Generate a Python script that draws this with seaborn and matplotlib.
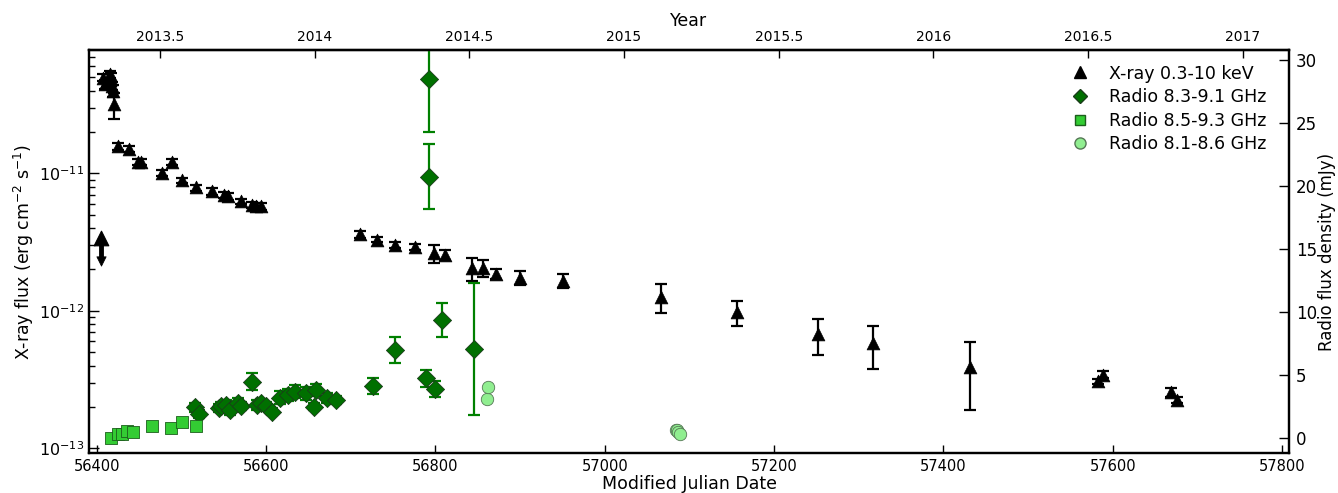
import numpy as np
import pandas as pd
import matplotlib
matplotlib.use("Agg")
import matplotlib.pyplot as plt
from matplotlib.ticker import MultipleLocator, FuncFormatter, LogLocator
from matplotlib.lines import Line2D
import seaborn as sns

# ---------------- data ----------------
xray_mjd = [56407.9, 56409.8, 56411.8, 56415.7, 56416.9, 56417.7, 56419.7, 56420.4,
            56425.6, 56438.5, 56449.0, 56453.0, 56476.7, 56489.6, 56501.4, 56517.0,
            56536.8, 56550.0, 56555.0, 56571.0, 56583.6, 56588.7, 56594.6,
            56710.5, 56731.4, 56751.8, 56776.2, 56798.2, 56811.9, 56843.4, 56856.0,
            56871.7, 56900.0, 56951.0, 57066.3, 57156.7, 57251.8, 57316.6, 57431.0,
            57582.0, 57588.0, 57669.0, 57675.6]
xray_flux = [4.96e-11, 4.44e-11, 4.56e-11, 5.25e-11, 4.83e-11, 4.31e-11, 3.97e-11, 3.17e-11,
             1.57e-11, 1.50e-11, 1.22e-11, 1.22e-11, 1.00e-11, 1.21e-11, 8.9e-12, 7.9e-12,
             7.4e-12, 7.0e-12, 6.8e-12, 6.25e-12, 5.9e-12, 5.75e-12, 5.75e-12,
             3.6e-12, 3.3e-12, 3.0e-12, 2.93e-12, 2.62e-12, 2.55e-12, 2.04e-12, 2.06e-12,
             1.85e-12, 1.74e-12, 1.66e-12, 1.26e-12, 9.8e-13, 6.8e-13, 5.8e-13, 3.9e-13,
             3.07e-13, 3.43e-13, 2.56e-13, 2.25e-13]
xray_err = [0.3e-11, 0.3e-11, 0.3e-11, 0.3e-11, 0.5e-11, 0.3e-11, 0.4e-11, 0.7e-11,
            0.08e-11, 0.07e-11, 0.06e-11, 0.06e-11, 0.05e-11, 0.06e-11, 0.4e-12, 0.4e-12,
            0.4e-12, 0.35e-12, 0.35e-12, 0.3e-12, 0.3e-12, 0.3e-12, 0.3e-12,
            0.2e-12, 0.15e-12, 0.15e-12, 0.15e-12, 0.4e-12, 0.2e-12, 0.4e-12, 0.3e-12,
            0.15e-12, 0.2e-12, 0.2e-12, 0.3e-12, 0.2e-12, 0.2e-12, 0.2e-12, 0.2e-12,
            0.15e-13, 0.2e-13, 0.2e-13, 0.1e-13]

xray_ul_mjd = [56404.7]
xray_ul_flux = [3.4e-12]
xray_ul_low = [2.3e-12]

radio1_mjd = [56516.0, 56521.0, 56544.7, 56547.4, 56553.3, 56557.2, 56567.0, 56570.0,
              56583.6, 56589.5, 56594.6, 56600.5, 56607.5, 56617.0, 56626.0, 56633.8,
              56647.6, 56656.7, 56659.4, 56672.4, 56683.0, 56726.3, 56751.8, 56789.0,
              56792.0, 56793.0, 56799.8, 56807.5, 56845.4]
radio1_flux = [2.44, 1.90, 2.36, 2.54, 2.62, 2.22, 2.80, 2.54,
               4.47, 2.62, 2.80, 2.54, 2.09, 3.20, 3.41, 3.67,
               3.55, 2.48, 3.81, 3.15, 3.02, 4.13, 6.98, 4.74,
               28.47, 20.74, 3.86, 9.37, 7.06]
radio1_err = [0.35, 0.3, 0.3, 0.3, 0.4, 0.4, 0.4, 0.3,
              0.66, 0.4, 0.3, 0.3, 0.3, 0.5, 0.5, 0.5,
              0.5, 0.3, 0.5, 0.4, 0.3, 0.65, 1.03, 0.66,
              4.17, 2.6, 0.63, 1.33, 5.25]

radio2_mjd = [56416.9, 56425.6, 56429.5, 56436.2, 56443.3, 56464.9, 56488.4, 56501.4, 56517.0]
radio2_flux = [0.02, 0.29, 0.29, 0.56, 0.50, 0.95, 0.82, 1.29, 0.98]

radio3_mjd = [56860.7, 56862.6, 57084.0, 57085.0, 57086.7, 57089.0]
radio3_flux = [3.10, 4.02, 0.63, 0.63, 0.50, 0.29]

xticks = [56400, 56600, 56800, 57000, 57200, 57400, 57600, 57800]
rticks = [0, 5, 10, 15, 20, 25, 30]
legend_labels = ['X-ray 0.3-10 keV', 'Radio 8.3-9.1 GHz', 'Radio 8.5-9.3 GHz', 'Radio 8.1-8.6 GHz']

# ---------------- style ----------------
sns.set_style("ticks")
plt.rcParams['font.family'] = ['DejaVu Sans']
plt.rcParams.update({
    'xtick.direction': 'in', 'ytick.direction': 'in',
    'axes.linewidth': 1.6, 'axes.edgecolor': 'black',
    'xtick.color': 'black', 'ytick.color': 'black',
    'axes.labelcolor': 'black', 'text.color': 'black',
})

DG = '#007000'
DG_EDGE = '#1a3d1a'
LG = '#33cc33'
LG_EDGE = '#1c5e1c'
PG = '#90ee90'
PG_EDGE = '#557755'

fig = plt.figure(figsize=(13.38, 4.93), dpi=100)
ax = fig.add_axes([0.0665, 0.081, 0.8969, 0.8175])
ax.set_yscale('log')
ax.set_xlim(56391, 57808)
ax.set_ylim(10**-13.034, 10**-10.103)

xdf = pd.DataFrame({'mjd': xray_mjd, 'flux': xray_flux})

# X-ray error bars + markers
ax.errorbar(xray_mjd, xray_flux, yerr=xray_err, fmt='none', ecolor='black',
            elinewidth=1.6, capsize=4, capthick=1.6, zorder=2)
sns.scatterplot(data=xdf, x='mjd', y='flux', ax=ax, marker='^', color='black',
                edgecolor='black', linewidth=0.5, s=85, zorder=3, legend=False)
# upper limit: triangle, thick shaft and downward arrow head
ax.plot([xray_ul_mjd[0], xray_ul_mjd[0]], [xray_ul_flux[0], xray_ul_low[0]],
        color='black', lw=3.5, solid_capstyle='butt', zorder=2)
sns.scatterplot(x=xray_ul_mjd, y=xray_ul_low, ax=ax, marker='v', color='black',
                edgecolor='black', s=45, zorder=3, legend=False)
sns.scatterplot(x=xray_ul_mjd, y=xray_ul_flux, ax=ax, marker='^', color='black',
                edgecolor='black', s=110, zorder=3, legend=False)

ax.set_xticks(xticks)
ax.tick_params(axis='x', which='both', top=False, labelsize=10.5, length=6, width=1, pad=4)
ax.tick_params(axis='y', which='major', left=True, right=False, labelsize=11.5, length=7, width=1)
ax.tick_params(axis='y', which='minor', left=True, right=False, length=4, width=1)
ax.yaxis.set_major_locator(LogLocator(base=10))
ax.yaxis.set_minor_locator(LogLocator(base=10, subs=np.arange(2, 10)))
ax.set_xlabel('Modified Julian Date', fontsize=12.5, labelpad=1)
ax.set_ylabel('X-ray flux (erg cm$^{-2}$ s$^{-1}$)', fontsize=12.5, labelpad=2)

# Radio axis
ax2 = ax.twinx()
ax2.set_ylim(-1.2, 30.8)
r1 = pd.DataFrame({'mjd': radio1_mjd, 'flux': radio1_flux})
ax2.errorbar(radio1_mjd, radio1_flux, yerr=radio1_err, fmt='none', ecolor='green',
             elinewidth=1.6, capsize=4, capthick=1.6, zorder=2)
sns.scatterplot(data=r1, x='mjd', y='flux', ax=ax2, marker='D', color=DG,
                edgecolor=DG_EDGE, linewidth=0.6, s=85, zorder=3, legend=False)
r2 = pd.DataFrame({'mjd': radio2_mjd, 'flux': radio2_flux})
sns.scatterplot(data=r2, x='mjd', y='flux', ax=ax2, marker='s', color=LG,
                edgecolor=LG_EDGE, linewidth=0.6, s=65, zorder=3, legend=False)
r3 = pd.DataFrame({'mjd': radio3_mjd, 'flux': radio3_flux})
sns.scatterplot(data=r3, x='mjd', y='flux', ax=ax2, marker='o', color=PG,
                edgecolor=PG_EDGE, linewidth=0.6, s=80, zorder=3, legend=False)
ax2.set_yticks(rticks)
ax2.tick_params(axis='y', labelsize=12, length=7, width=1, direction='in', pad=5)
ax2.set_ylabel('Radio flux density (mJy)', fontsize=12, labelpad=1)
ax2.set_xlim(ax.get_xlim())

# Year axis on top
def mjd2yr(m):
    return 2000.0 + (np.asarray(m) - 51544.0) / 365.25
def yr2mjd(y):
    return 51544.0 + (np.asarray(y) - 2000.0) * 365.25
secx = ax.secondary_xaxis('top', functions=(mjd2yr, yr2mjd))
secx.xaxis.set_major_locator(MultipleLocator(0.5))
secx.xaxis.set_major_formatter(FuncFormatter(lambda v, p: '%g' % v))
secx.tick_params(axis='x', direction='in', labelsize=10, length=6, width=1, pad=4)
secx.set_xlabel('Year', fontsize=12.5, labelpad=3)

# Legend
handles = [
    Line2D([], [], ls='none', marker='^', color='black', markersize=8),
    Line2D([], [], ls='none', marker='D', markerfacecolor=DG, markeredgecolor=DG_EDGE, markersize=7),
    Line2D([], [], ls='none', marker='s', markerfacecolor=LG, markeredgecolor=LG_EDGE, markersize=7),
    Line2D([], [], ls='none', marker='o', markerfacecolor=PG, markeredgecolor=PG_EDGE, markersize=8),
]
ax2.legend(handles, legend_labels, loc='upper right', bbox_to_anchor=(1.0, 1.02), frameon=False,
           fontsize=12.5, numpoints=1, handletextpad=0.9, labelspacing=0.32, borderaxespad=0.9,
           handlelength=1.6)

fig.savefig('out.png', dpi=100)
